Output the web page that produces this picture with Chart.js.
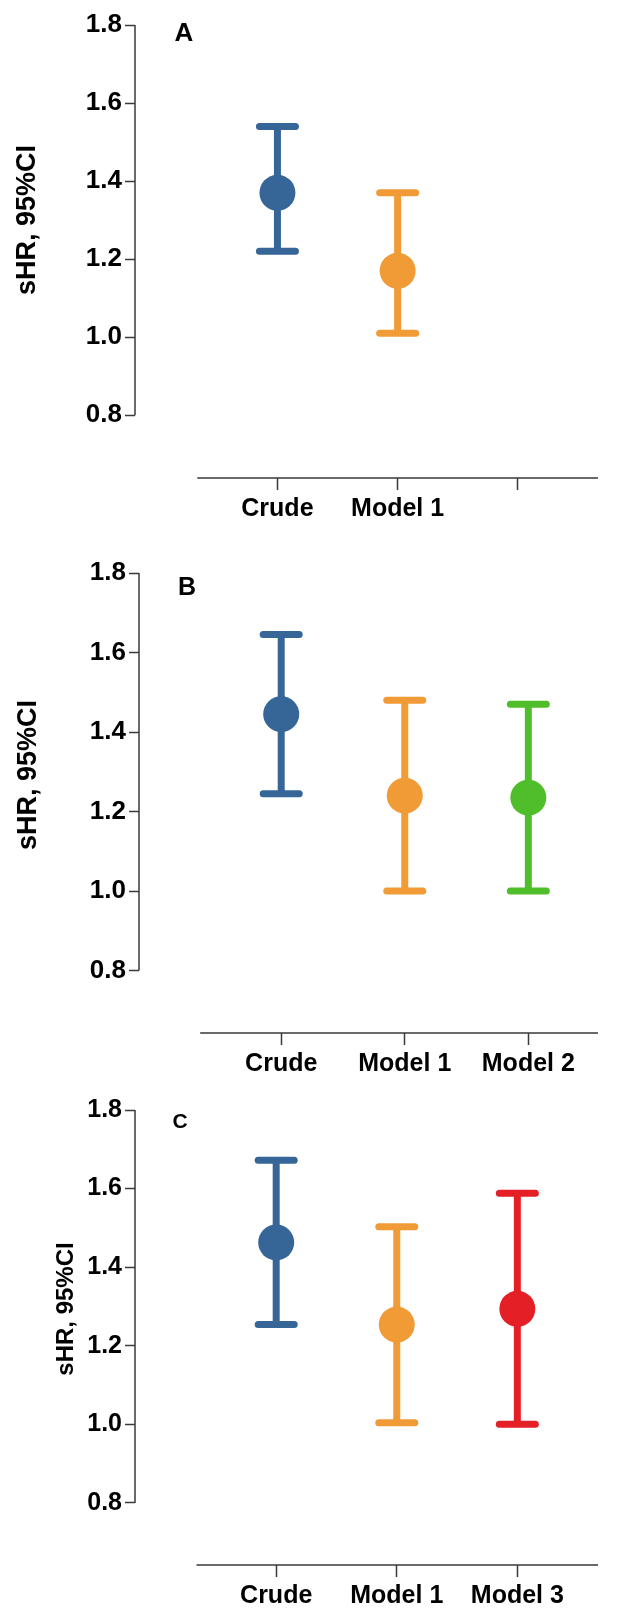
<!DOCTYPE html>
<html>
<head>
<meta charset="utf-8">
<script src="https://cdn.jsdelivr.net/npm/chart.js@4.4.1/dist/chart.umd.min.js"></script>
<style>
  body { margin: 0; background: #fff; }
  canvas { display: block; }
</style>
</head>
<body>
<canvas id="chartA" width="623" height="540"></canvas>
<canvas id="chartB" width="623" height="540"></canvas>
<canvas id="chartC" width="623" height="528"></canvas>
<script>
// Panel A
const categoriesA = ['Crude', 'Model 1', ''];
const meanA = [1.37, 1.17];
const lowerA = [1.22, 1.01];
const upperA = [1.54, 1.37];

// Panel B
const categoriesB = ['Crude', 'Model 1', 'Model 2'];
const meanB = [1.445, 1.24, 1.235];
const lowerB = [1.245, 1.00, 1.00];
const upperB = [1.645, 1.48, 1.47];

// Panel C
const categoriesC = ['Crude', 'Model 1', 'Model 3'];
const meanC = [1.463, 1.254, 1.294];
const lowerC = [1.254, 1.004, 1.00];
const upperC = [1.672, 1.503, 1.588];

const yTicks = [0.8, 1.0, 1.2, 1.4, 1.6, 1.8];
const yTitle = 'sHR, 95%CI';

const blue = 'rgb(54, 101, 152)';
const orange = 'rgb(240, 155, 53)';
const green = 'rgb(80, 190, 42)';
const red = 'rgb(228, 31, 38)';

const FONT = '"Liberation Sans", Arial, Helvetica, sans-serif';
const AXIS = '#3a3a3a';

const panels = [
    { id: 'chartA', letter: 'A', cats: categoriesA, mean: meanA, lower: lowerA, upper: upperA,
      colors: [blue, orange],
      padTop: 21, padRight: 20, yWidth: 135, xHeight: 62,
      yMin: 0.639, xMin: -0.185, xMax: 3.667, lineStart: 0.333,
      tickSize: 26, letterX: 184, letterY: 34, letterSize: 26,
      titleX: 28, titleY: 220, titleSize: 27 },
    { id: 'chartB', letter: 'B', cats: categoriesB, mean: meanB, lower: lowerB, upper: upperB,
      colors: [blue, orange, green],
      padTop: 33, padRight: 3, yWidth: 139, xHeight: 47,
      yMin: 0.643, xMin: -0.151, xMax: 3.564, lineStart: 0.344,
      tickSize: 26, letterX: 187, letterY: 48, letterSize: 25,
      titleX: 29, titleY: 235, titleSize: 27 },
    { id: 'chartC', letter: 'C', cats: categoriesC, mean: meanC, lower: lowerC, upper: upperC,
      colors: [blue, orange, red],
      padTop: 30, padRight: 6, yWidth: 135, xHeight: 43,
      yMin: 0.642, xMin: -0.171, xMax: 3.669, lineStart: 0.339,
      tickSize: 25, letterX: 180, letterY: 42, letterSize: 21,
      titleX: 66, titleY: 229, titleSize: 24 }
];

// axis lines, y title and panel letter
const decor = {
    id: 'decor',
    beforeDatasetsDraw(chart) {
        chart.ctx.lineCap = 'round';
    },
    afterDatasetsDraw(chart) {
        chart.ctx.lineCap = 'butt';
    },
    afterDraw(chart, args, opts) {
        const ctx = chart.ctx;
        const x = chart.scales.x, y = chart.scales.y;
        const area = chart.chartArea;
        ctx.save();
        ctx.strokeStyle = AXIS;
        ctx.lineWidth = 1.5;
        ctx.beginPath();
        ctx.moveTo(area.left, y.getPixelForValue(1.8));
        ctx.lineTo(area.left, y.getPixelForValue(0.8));
        ctx.moveTo(x.getPixelForValue(opts.lineStart), area.bottom);
        ctx.lineTo(area.right, area.bottom);
        ctx.stroke();

        ctx.fillStyle = '#000';
        ctx.textAlign = 'center';
        ctx.textBaseline = 'middle';
        ctx.font = 'bold ' + opts.letterSize + 'px ' + FONT;
        ctx.fillText(opts.letter, opts.letterX, opts.letterY);

        ctx.translate(opts.titleX, opts.titleY);
        ctx.rotate(-Math.PI / 2);
        ctx.font = 'bold ' + opts.titleSize + 'px ' + FONT;
        ctx.fillText(yTitle, 0, 0);
        ctx.restore();
    }
};

panels.forEach(p => {
    const datasets = [];
    p.mean.forEach((m, i) => {
        datasets.push({
            data: [{ x: i + 1, y: m }],
            backgroundColor: p.colors[i],
            borderWidth: 0,
            pointRadius: 18,
            order: 0
        });
        datasets.push({
            data: [{ x: i + 1, y: p.lower[i] }, { x: i + 1, y: p.upper[i] }],
            showLine: true,
            borderColor: p.colors[i],
            borderWidth: 7,
            pointStyle: 'line',
            pointRadius: 18,
            pointBorderWidth: 7,
            pointBorderColor: p.colors[i],
            order: 1
        });
    });

    new Chart(document.getElementById(p.id), {
        type: 'scatter',
        data: { datasets: datasets },
        options: {
            responsive: false,
            animation: false,
            events: [],
            layout: { padding: { top: p.padTop, right: p.padRight, left: 0, bottom: 0 } },
            plugins: {
                legend: { display: false },
                tooltip: { enabled: false },
                decor: p
            },
            scales: {
                x: {
                    type: 'linear',
                    min: p.xMin,
                    max: p.xMax,
                    afterBuildTicks: s => { s.ticks = p.cats.map((c, i) => ({ value: i + 1 })); },
                    afterFit: s => { s.height = p.xHeight; },
                    border: { display: false },
                    grid: { drawOnChartArea: false, drawTicks: true, tickLength: 12, tickWidth: 1.5, tickColor: AXIS },
                    ticks: {
                        autoSkip: false,
                        maxRotation: 0,
                        padding: 4,
                        color: '#000',
                        font: { family: FONT, size: 25, weight: 'bold' },
                        callback: (v, i) => p.cats[i]
                    }
                },
                y: {
                    min: p.yMin,
                    max: 1.8,
                    afterBuildTicks: s => { s.ticks = yTicks.map(v => ({ value: v })); },
                    afterFit: s => { s.width = p.yWidth; },
                    border: { display: false },
                    grid: { drawOnChartArea: false, drawTicks: true, tickLength: 10, tickWidth: 1.5, tickColor: AXIS },
                    ticks: {
                        padding: 3,
                        color: '#000',
                        font: { family: FONT, size: p.tickSize, weight: 'bold' },
                        callback: v => v.toFixed(1)
                    }
                }
            }
        },
        plugins: [decor]
    });
});
</script>
</body>
</html>
